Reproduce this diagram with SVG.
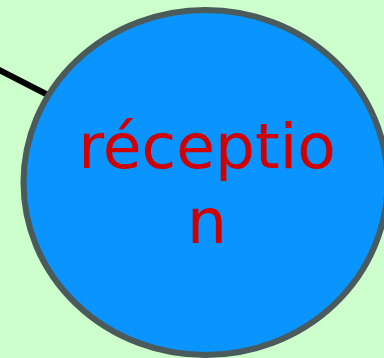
<svg xmlns="http://www.w3.org/2000/svg" width="384" height="358" viewBox="0 0 384 358">
<style>
.node{fill:#0a94ff;stroke:#4b5a5a;stroke-width:6}
.lbl{font-family:"DejaVu Sans",sans-serif;font-size:63px;fill:#d00000;text-anchor:middle}
.edge{stroke:#000;stroke-width:6;fill:none}
</style>
<rect width="384" height="358" fill="#ccffcc"/>
<g id="edges">
<line class="edge" x1="-20" y1="60" x2="48" y2="95"/>
</g>
<g id="reception">
<ellipse class="node" cx="205.5" cy="182.5" rx="182" ry="172.5"/>
<text class="lbl" x="207" y="168">réceptio</text>
<text class="lbl" x="207" y="243">n</text>
</g>
</svg>
